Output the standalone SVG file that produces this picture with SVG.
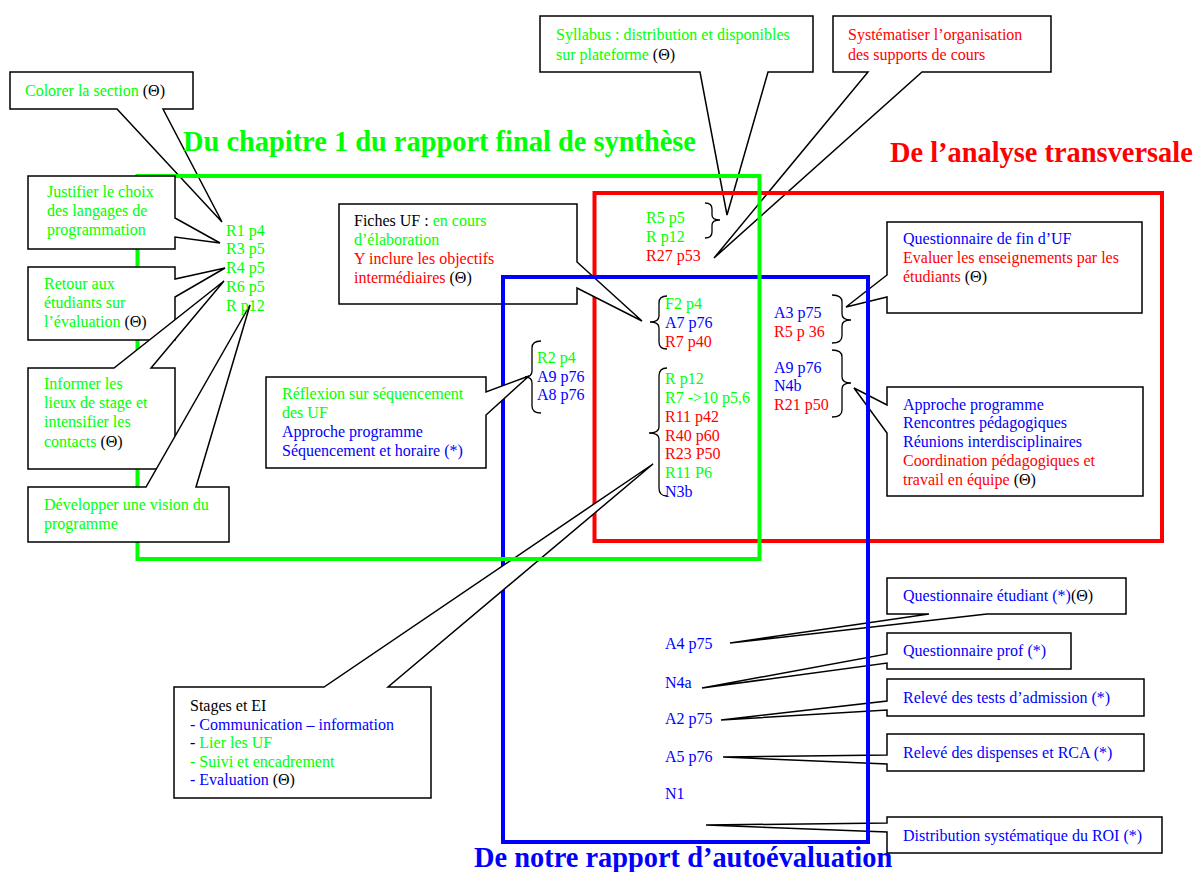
<svg xmlns="http://www.w3.org/2000/svg" width="1198" height="872" viewBox="0 0 1198 872">
  <style>
    .t { font-family: "Liberation Serif", "Times New Roman", serif; font-size: 16px; }
    .title { font-family: "Liberation Serif", "Times New Roman", serif; font-size: 28.4px; font-weight: bold; }
    .g { fill: #00ff00; }
    .r { fill: #ff0000; }
    .b { fill: #0000ff; }
    .k { fill: #000000; }
    .co { fill: #ffffff; stroke: #000000; stroke-width: 1.5; stroke-linejoin: miter; }
    .br { fill: none; stroke: #000000; stroke-width: 1.3; }
    .zone { fill: none; stroke-width: 4; }
  </style>
  <rect width="1198" height="872" fill="#ffffff"/>

  <!-- callouts lying under the zone frames -->
  <g id="colorer">
    <path class="co" d="M10,72 H193 V109 H163 L222,222 L117,109 H10 Z"/>
    <text class="t" x="25" y="96"><tspan class="g">Colorer la section </tspan><tspan class="k">(Θ)</tspan></text>
  </g>
  <g id="syllabus">
    <path class="co" d="M540,16 H813 V72 H768 L727,215 L700,72 H540 Z"/>
    <text class="t g" x="556" y="40">Syllabus : distribution et disponibles</text>
    <text class="t" x="556" y="60"><tspan class="g">sur plateforme </tspan><tspan class="k">(Θ)</tspan></text>
  </g>
  <g id="systematiser">
    <path class="co" d="M833,16 H1051 V72 H922 L714,258 L868,72 H833 Z"/>
    <text class="t r" x="848" y="40">Systématiser l’organisation</text>
    <text class="t r" x="848" y="60">des supports de cours</text>
  </g>
  <g id="questionnaire-fin-uf">
    <path class="co" d="M887,222 H1142 V313 H887 V297 L846,307 L887,275 Z"/>
    <text class="t b" x="903" y="244">Questionnaire de fin d’UF</text>
    <text class="t r" x="903" y="263">Evaluer les enseignements par les</text>
    <text class="t" x="903" y="282"><tspan class="r">étudiants </tspan><tspan class="k">(Θ)</tspan></text>
  </g>
  <g id="approche-programme">
    <path class="co" d="M887,387 H1143 V496 H887 V433 L854,388 L887,405 Z"/>
    <text class="t b" x="903" y="410">Approche programme</text>
    <text class="t b" x="903" y="428">Rencontres pédagogiques</text>
    <text class="t b" x="903" y="447">Réunions interdisciplinaires</text>
    <text class="t r" x="903" y="466">Coordination pédagogiques et</text>
    <text class="t" x="903" y="485"><tspan class="r">travail en équipe </tspan><tspan class="k">(Θ)</tspan></text>
  </g>
  <g id="questionnaire-etudiant">
    <path class="co" d="M887,578 H1126 V614 H987 L730,643 L929,614 H887 Z"/>
    <text class="t" x="903" y="601"><tspan class="b">Questionnaire étudiant (*)</tspan><tspan class="k">(Θ)</tspan></text>
  </g>
  <g id="questionnaire-prof">
    <path class="co" d="M887,633 H1071 V669 H887 V663 L702,688 L887,654 Z"/>
    <text class="t b" x="903" y="656">Questionnaire prof (*)</text>
  </g>
  <g id="releve-tests">
    <path class="co" d="M887,679 H1144 V716 H887 V710 L721,720 L887,701 Z"/>
    <text class="t b" x="903" y="703">Relevé des tests d’admission (*)</text>
  </g>
  <g id="releve-dispenses">
    <path class="co" d="M887,734 H1144 V771 H887 V764 L723,757 L887,755 Z"/>
    <text class="t b" x="903" y="758">Relevé des dispenses et RCA (*)</text>
  </g>
  <g id="distribution-roi">
    <path class="co" d="M887,817 H1162 V853 H887 V832 L706,825 L887,823 Z"/>
    <text class="t b" x="903" y="841">Distribution systématique du ROI (*)</text>
  </g>

  <!-- zone: transversal analysis -->
  <g id="zone-analyse">
    <rect class="zone" x="594.5" y="193" width="567.5" height="348" stroke="#ff0000"/>
    <text class="title r" x="890" y="162">De l’analyse transversale</text>
  </g>

  <g id="fiches-uf">
    <path class="co" d="M339,204 H577 V262 L642,321 L577,288 V304 H339 Z"/>
    <text class="t" x="354" y="226"><tspan class="k">Fiches UF : </tspan><tspan class="g">en cours</tspan></text>
    <text class="t g" x="354" y="245">d’élaboration</text>
    <text class="t r" x="354" y="264">Y inclure les objectifs</text>
    <text class="t" x="354" y="283"><tspan class="r">intermédiaires </tspan><tspan class="k">(Θ)</tspan></text>
  </g>

  <!-- zone: self-evaluation report -->
  <g id="zone-autoevaluation">
    <rect class="zone" x="503" y="277" width="365" height="565" stroke="#0000ff"/>
    <text class="title b" x="474" y="867">De notre rapport d’autoévaluation</text>
  </g>

  <g id="stages">
    <path class="co" d="M174,687 H324 L653,464 L388,687 H431 V798 H174 Z"/>
    <text class="t k" x="190" y="711">Stages et EI</text>
    <text class="t b" x="190" y="730">- Communication – information</text>
    <text class="t" x="190" y="748"><tspan class="k">- </tspan><tspan class="g">Lier les UF</tspan></text>
    <text class="t g" x="190" y="767">- Suivi et encadrement</text>
    <text class="t" x="190" y="785"><tspan class="b">- Evaluation </tspan><tspan class="k">(Θ)</tspan></text>
  </g>
  <g id="reflexion">
    <path class="co" d="M266,377 H486 V392 L529,376 L486,415 V468 H266 Z"/>
    <text class="t g" x="282" y="399">Réflexion sur séquencement</text>
    <text class="t g" x="282" y="418">des UF</text>
    <text class="t b" x="282" y="437">Approche programme</text>
    <text class="t b" x="282" y="456">Séquencement et horaire (*)</text>
  </g>

  <!-- zone: final synthesis report, chapter 1 -->
  <g id="zone-synthese">
    <rect class="zone" x="137.5" y="176" width="622" height="383" stroke="#00ff00"/>
    <text class="title g" x="183" y="151">Du chapitre 1 du rapport final de synthèse</text>
  </g>

  <g id="justifier">
    <path class="co" d="M28,176 H175 V218 L220,243 L175,237 V249 H28 Z"/>
    <text class="t g" x="47" y="197">Justifier le choix</text>
    <text class="t g" x="47" y="216">des langages de</text>
    <text class="t g" x="47" y="235">programmation</text>
  </g>
  <g id="retour">
    <path class="co" d="M28,267 H175 V279 L225,268 L175,297 V340 H28 Z"/>
    <text class="t g" x="44" y="289">Retour aux</text>
    <text class="t g" x="44" y="308">étudiants sur</text>
    <text class="t" x="44" y="327"><tspan class="g">l’évaluation </tspan><tspan class="k">(Θ)</tspan></text>
  </g>
  <g id="informer">
    <path class="co" d="M28,368 H114 L224,281 L151,368 H175 V469 H28 Z"/>
    <text class="t g" x="44" y="389">Informer les</text>
    <text class="t g" x="44" y="408">lieux de stage et</text>
    <text class="t g" x="44" y="427">intensifier les</text>
    <text class="t" x="44" y="447"><tspan class="g">contacts </tspan><tspan class="k">(Θ)</tspan></text>
  </g>
  <g id="developper">
    <path class="co" d="M28,487 H146 L250,305 L196,487 H229 V542 H28 Z"/>
    <text class="t g" x="44" y="510">Développer une vision du</text>
    <text class="t g" x="44" y="529">programme</text>
  </g>

  <!-- reference lists -->
  <g id="refs-synthese">
    <text class="t g" x="226" y="236">R1 p4</text>
    <text class="t g" x="226" y="254">R3 p5</text>
    <text class="t g" x="226" y="273">R4 p5</text>
    <text class="t g" x="226" y="292">R6 p5</text>
    <text class="t g" x="226" y="311">R p12</text>
  </g>
  <g id="refs-supports">
    <text class="t g" x="646" y="223">R5 p5</text>
    <text class="t g" x="646" y="242">R p12</text>
    <text class="t r" x="646" y="261">R27 p53</text>
  </g>
  <g id="refs-fiches">
    <text class="t g" x="665" y="309">F2 p4</text>
    <text class="t b" x="665" y="328">A7 p76</text>
    <text class="t r" x="665" y="347">R7 p40</text>
  </g>
  <g id="refs-stages">
    <text class="t g" x="665" y="384">R p12</text>
    <text class="t g" x="665" y="403">R7 -&gt;10 p5,6</text>
    <text class="t r" x="665" y="422">R11 p42</text>
    <text class="t r" x="665" y="441">R40 p60</text>
    <text class="t r" x="665" y="459">R23 P50</text>
    <text class="t g" x="665" y="478">R11 P6</text>
    <text class="t b" x="665" y="497">N3b</text>
  </g>
  <g id="refs-sequencement">
    <text class="t g" x="537" y="363">R2 p4</text>
    <text class="t b" x="537" y="382">A9 p76</text>
    <text class="t b" x="537" y="400">A8 p76</text>
  </g>
  <g id="refs-evaluation">
    <text class="t b" x="774" y="318">A3 p75</text>
    <text class="t r" x="774" y="337">R5 p 36</text>
  </g>
  <g id="refs-coordination">
    <text class="t b" x="774" y="373">A9 p76</text>
    <text class="t b" x="774" y="391">N4b</text>
    <text class="t r" x="774" y="410">R21 p50</text>
  </g>
  <g id="refs-autoevaluation">
    <text class="t b" x="665" y="649">A4 p75</text>
    <text class="t b" x="665" y="688">N4a</text>
    <text class="t b" x="665" y="724">A2 p75</text>
    <text class="t b" x="665" y="762">A5 p76</text>
    <text class="t b" x="665" y="799">N1</text>
  </g>

  <!-- braces grouping the references -->
  <g id="connectors">
    <path class="br" d="M705,203 Q712,203 712,209 V215 Q712,220 720,220 Q712,220 712,225 V232 Q712,238 705,238"/>
    <path class="br" d="M667,296 Q659,296 659,303 V316 Q659,322 650,322 Q659,322 659,328 V342 Q659,349 667,349"/>
    <path class="br" d="M667,368 Q659,368 659,376 V427 Q659,433 649,433 Q659,433 659,439 V488 Q659,496 667,496"/>
    <path class="br" d="M541,341 Q532,341 532,348 V371 Q532,377 525,377 Q532,377 532,383 V406 Q532,413 541,413"/>
    <path class="br" d="M832,295 Q842,295 842,302 V314 Q842,320 851,320 Q842,320 842,326 V336 Q842,343 832,343"/>
    <path class="br" d="M832,350 Q842,350 842,357 V377 Q842,383 851,383 Q842,383 842,389 V410 Q842,417 832,417"/>
  </g>
</svg>
